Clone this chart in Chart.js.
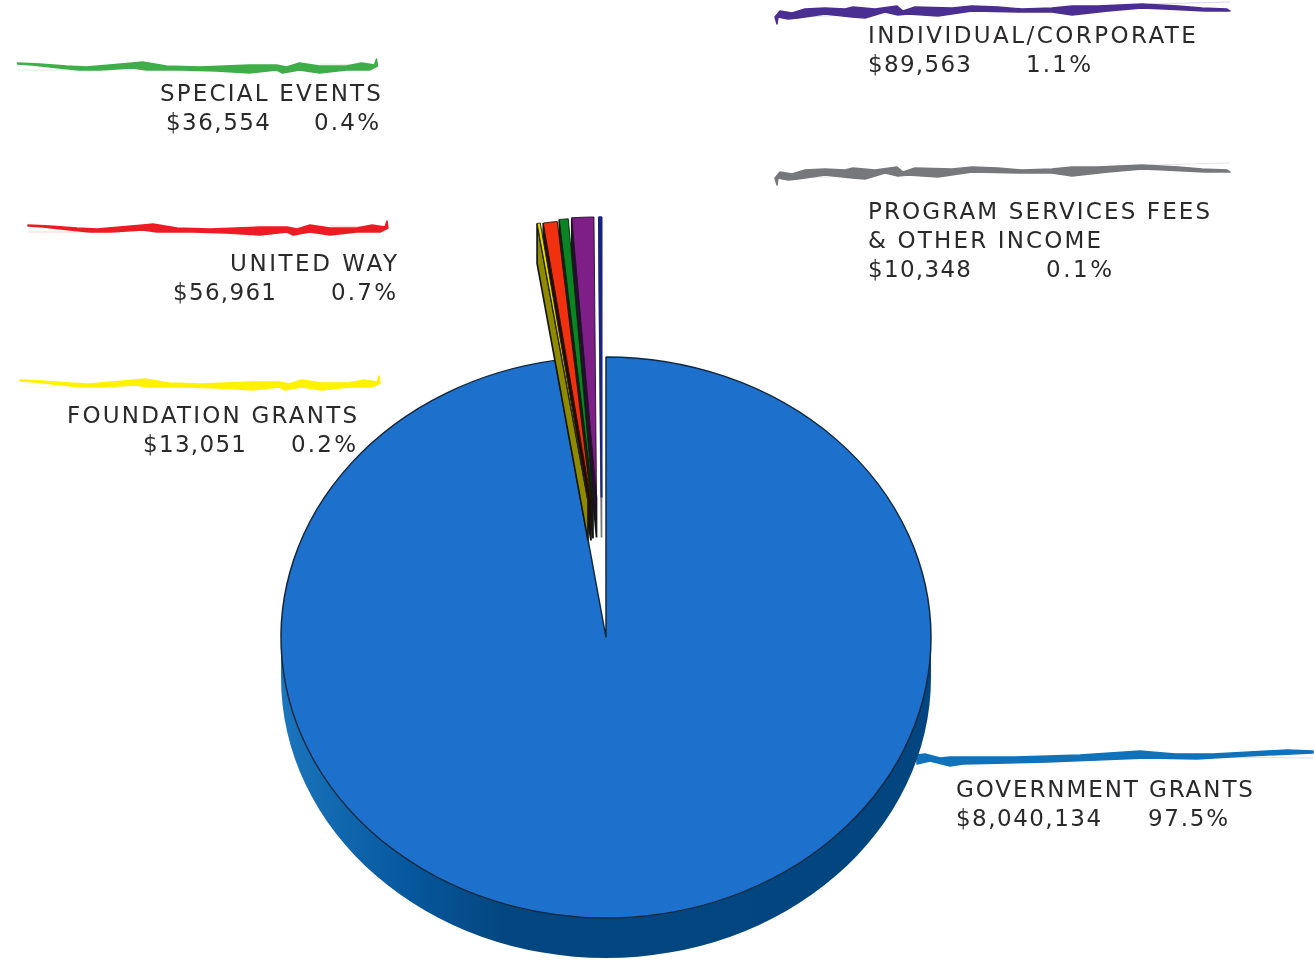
<!DOCTYPE html>
<html>
<head>
<meta charset="utf-8">
<title>Revenue</title>
<script src="https://cdn.jsdelivr.net/npm/chart.js@4"></script>
<style>
  html, body { margin: 0; padding: 0; background: #fff; }
  #wrap { position: relative; width: 1314px; height: 961px; overflow: hidden; }
  #pie { position: absolute; left: 0; top: 0; }
  #strokes { position: absolute; left: 0; top: 0; }
  .lbl { position: absolute; font: 23px "DejaVu Sans", sans-serif; color: #2b2929; line-height: 28px; white-space: nowrap; }
</style>
</head>
<body>
<div id="wrap">
  <svg id="strokes" width="1314" height="961"></svg>
  <canvas id="pie" width="1314" height="961"></canvas>
</div>
<script>
// clockwise from 12 o'clock
const names = ['Government Grants', 'Foundation Grants', 'United Way', 'Special Events', 'Individual/Corporate', 'Program Services Fees & Other Income'];
const amounts = [8040134, 13051, 56961, 36554, 89563, 10348];
const percents = ['97.5%', '0.2%', '0.7%', '0.4%', '1.1%', '0.1%'];

const faceColors = ['#1d70cb', '#e2dc00', '#f0300f', '#0b8423', '#7d1f87', '#1a237e'];
const edgeColors = ['#12283f', '#1a1a10', '#2a1208', '#0c2410', '#24102c', '#1a237e'];
const edgeWidths = [1.5, 1, 1, 1, 1, 2];
const wallColors = ['#03457f', '#8f8a00', '#2a0600', '#062a0c', '#2c0a38', '#6a6a6a'];

// how far each slice is pulled out of the pie, screen px
const shiftX = [0, -18, -15, -13, -9.5, -4.5];
const shiftY = [0, -137, -137, -139, -140, -140];

const PIE_X = 606, PIE_Y = 637.5, RX = 325, RY = 280.5, DEPTH = 40;
const squash = RY / RX;

const money = v => '$' + v.toLocaleString('en-US');

// text, left, right, baseline
const labelLines = [
  ['GOVERNMENT GRANTS', 956, 1253, 797], [money(amounts[0]), 956, 1101, 826], [percents[0], 1148, 1228, 826],
  ['INDIVIDUAL/CORPORATE', 868, 1196, 43], [money(amounts[4]), 868, 971, 72], [percents[4], 1026, 1091, 72],
  ['PROGRAM SERVICES FEES', 868, 1210, 219], ['& OTHER INCOME', 868, 1101, 248], [money(amounts[5]), 868, 971, 277], [percents[5], 1046, 1112, 277],
  ['SPECIAL EVENTS', 160, 381, 101], [money(amounts[3]), 166, 270, 130], [percents[3], 314, 379, 130],
  ['UNITED WAY', 230, 397, 271], [money(amounts[2]), 173, 276, 300], [percents[2], 331, 396, 300],
  ['FOUNDATION GRANTS', 67, 357, 423], [money(amounts[1]), 143, 246, 452], [percents[1], 291, 356, 452],
];

// the same two brush shapes are reused above most labels
const brushLeft = '28,225 50,226 77,228 97,229 143,225 153,224 177,228 210,229 260,227 287,227 297,229 310,225 330,228 357,228 372,225 385,227 387,221 388,228 380,232 357,232 330,235 310,232 293,235 287,232 260,235 227,233 193,232 157,232 143,230 110,232 90,232 70,230 43,227 28,226';
const brushRight = '775,178 780,172 792,174 805,170 825,169 845,170 853,168 875,170 897,167 903,172 915,168 952,169 972,167 998,168 1022,170 1052,169 1072,167 1098,167 1142,165 1178,167 1202,169 1227,170 1230,172 1205,172 1165,170 1142,169 1108,172 1072,176 1052,173 1022,173 972,172 938,177 908,175 898,176 885,173 865,179 852,178 825,175 798,179 788,180 778,178 777,185';
const brushBlue = '917,755 925,754 940,758 950,757 957,757 1013,757 1080,755 1140,751 1175,754 1213,754 1287,750 1313,751 1313,753 1247,756 1197,759 1147,758 1047,762 963,764 950,766 930,761 917,764';

const brushStrokes = [
  ['#ed1c24', brushLeft, 0, 0],
  ['#3fae49', brushLeft, -10.5, -162],
  ['#fff200', brushLeft, -8, 155],
  ['#77787b', brushRight, 0, 0],
  ['#4b2e92', brushRight, 0, -161],
  ['#0f72ba', brushBlue, 0, 0],
];

// faint dry-brush streaks next to the strokes
const brushStreaks = [
  ['#ed1c24', '28,232 120,232'], ['#ed1c24', '330,226 385,227'],
  ['#3fae49', '18,70 110,70'], ['#3fae49', '320,64 375,65'],
  ['#fff200', '20,387 110,387'], ['#fff200', '322,381 377,382'],
  ['#77787b', '800,178 850,176'], ['#77787b', '1150,165 1230,163'],
  ['#4b2e92', '800,17 850,15'], ['#4b2e92', '1150,4 1230,2'],
  ['#0f72ba', '1200,757 1313,758'],
];

const SVGNS = 'http://www.w3.org/2000/svg';
const svg = document.getElementById('strokes');
brushStreaks.forEach(([color, pts]) => {
  const l = document.createElementNS(SVGNS, 'polyline');
  l.setAttribute('points', pts);
  l.setAttribute('stroke', color);
  l.setAttribute('stroke-opacity', '0.2');
  l.setAttribute('fill', 'none');
  svg.appendChild(l);
});
brushStrokes.forEach(([color, pts, dx, dy]) => {
  const p = document.createElementNS(SVGNS, 'polygon');
  p.setAttribute('points', pts);
  p.setAttribute('fill', color);
  p.setAttribute('stroke', color);
  p.setAttribute('stroke-width', '1.5');
  p.setAttribute('stroke-linejoin', 'round');
  p.setAttribute('transform', `translate(${dx} ${dy})`);
  svg.appendChild(p);
});

const wrap = document.getElementById('wrap');
labelLines.forEach(([text, x, right, base]) => {
  const d = document.createElement('div');
  d.className = 'lbl';
  d.textContent = text;
  d.style.left = x + 'px';
  d.style.top = (base - 22) + 'px';
  wrap.appendChild(d);
  // letter spacing fitted to the width of the line
  const w = d.getBoundingClientRect().width;
  d.style.letterSpacing = ((right - x - w) / (text.length - 1)).toFixed(2) + 'px';
});

// squashes the circle to an ellipse and adds the 3D walls
const pie3d = {
  id: 'pie3d',
  beforeDatasetDraw(chart, args) {
    const ctx = chart.ctx;
    const arcs = args.meta.data;
    const dz = DEPTH / squash;
    ctx.save();
    ctx.translate(PIE_X, PIE_Y);
    ctx.scale(1, squash);
    ctx.translate(-arcs[0].x, -arcs[0].y);

    // rim of the big slice
    const a = arcs[0];
    const rim = ctx.createLinearGradient(a.x - RX, 0, a.x + RX, 0);
    rim.addColorStop(0, '#1c76bd');
    rim.addColorStop(0.08, '#1269b0');
    rim.addColorStop(0.2, '#06579d');
    rim.addColorStop(0.34, '#044780');
    rim.addColorStop(1, '#03457f');
    ctx.beginPath();
    ctx.arc(a.x, a.y + dz, a.outerRadius, 0, Math.PI);
    ctx.arc(a.x, a.y, a.outerRadius, Math.PI, 0, true);
    ctx.closePath();
    ctx.fillStyle = rim;
    ctx.fill();
    a.draw(ctx);

    // pulled out slices: walls first, right to left, then the tops
    for (let i = arcs.length - 1; i > 0; i--) {
      const el = arcs[i];
      const sx = shiftX[i], sy = shiftY[i] / squash;
      const tipX = el.x + sx + Math.cos(el.startAngle) * el.outerRadius;
      const tipY = el.y + sy + Math.sin(el.startAngle) * el.outerRadius;
      ctx.beginPath();
      ctx.moveTo(el.x + sx, el.y + sy);
      ctx.lineTo(tipX, tipY);
      ctx.lineTo(tipX, tipY + dz);
      ctx.lineTo(el.x + sx, el.y + sy + dz);
      ctx.closePath();
      ctx.fillStyle = wallColors[i];
      ctx.fill();
      ctx.lineWidth = 1.7;
      ctx.strokeStyle = i === arcs.length - 1 ? '#777' : '#161616';
      ctx.stroke();
    }
    for (let i = 1; i < arcs.length; i++) {
      ctx.save();
      ctx.translate(shiftX[i], shiftY[i] / squash);
      arcs[i].draw(ctx);
      ctx.restore();
    }
    ctx.restore();
    return false;
  }
};

new Chart(document.getElementById('pie'), {
  type: 'pie',
  data: {
    labels: names,
    datasets: [{
      data: amounts,
      backgroundColor: faceColors,
      borderColor: edgeColors,
      borderWidth: edgeWidths,
      clip: false
    }]
  },
  options: {
    responsive: false,
    animation: false,
    radius: RX,
    layout: { padding: { right: 1314 - 2 * PIE_X, top: 2 * PIE_Y - 961 } },
    plugins: { legend: { display: false }, tooltip: { enabled: false } }
  },
  plugins: [pie3d]
});
</script>
</body>
</html>
